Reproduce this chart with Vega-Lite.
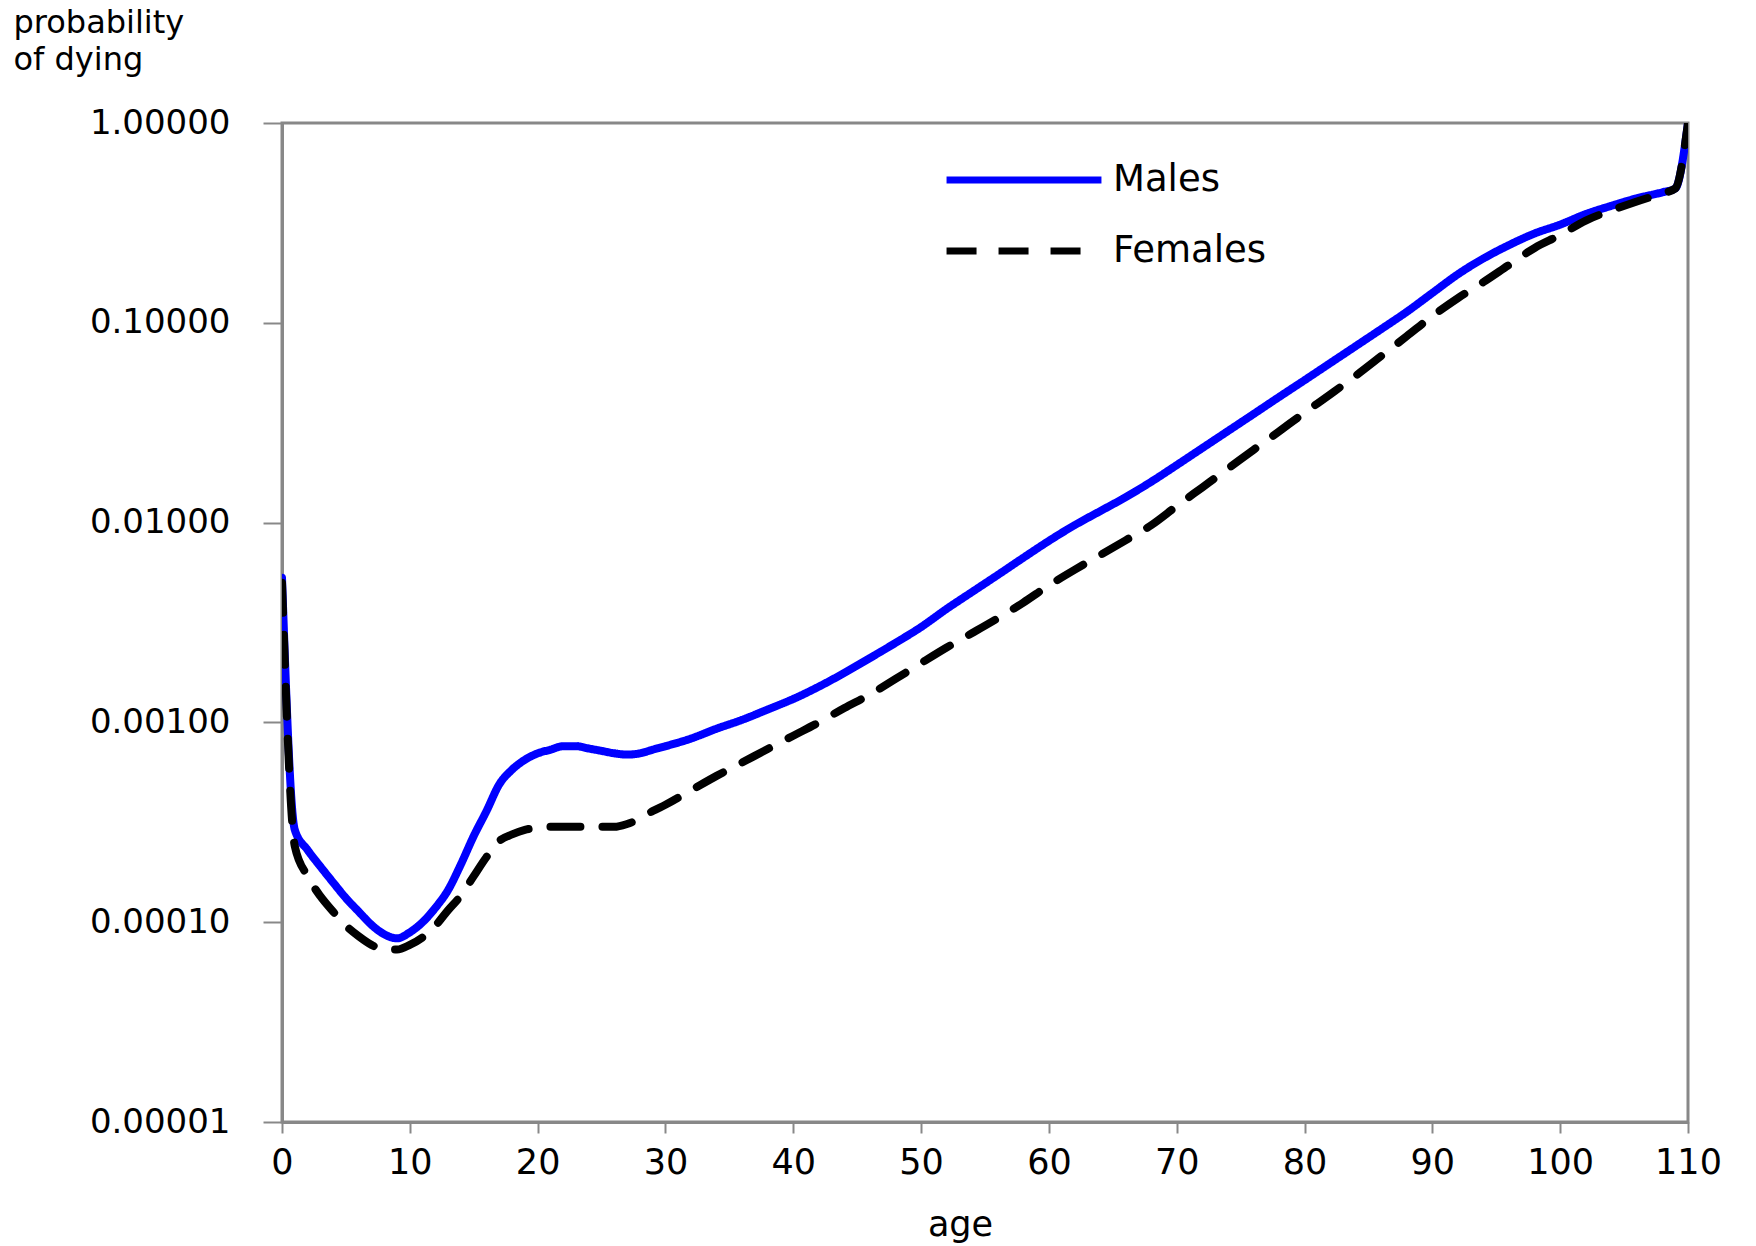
{
  "$schema": "https://vega.github.io/schema/vega-lite/v6.json",
  "width": 1406,
  "height": 999,
  "autosize": {"type": "none"},
  "padding": {"left": 282, "top": 123, "right": 68, "bottom": 124},
  "background": "white",
  "config": {
    "view": {"stroke": "#888888", "strokeWidth": 3},
    "font": "DejaVu Sans"
  },
  "data": {"values": [
    {"sex":"Males","age":0,"q":0.0053},{"sex":"Males","age":1,"q":0.00029},{"sex":"Males","age":2,"q":0.00023},{"sex":"Males","age":3,"q":0.00019},{"sex":"Males","age":4,"q":0.000158},{"sex":"Males","age":5,"q":0.000132},{"sex":"Males","age":6,"q":0.000113},{"sex":"Males","age":7,"q":0.000097},{"sex":"Males","age":8,"q":0.000087},{"sex":"Males","age":9,"q":0.000083},{"sex":"Males","age":10,"q":0.000089},{"sex":"Males","age":11,"q":0.0001},{"sex":"Males","age":12,"q":0.000118},{"sex":"Males","age":13,"q":0.000145},{"sex":"Males","age":14,"q":0.000195},{"sex":"Males","age":15,"q":0.00027},{"sex":"Males","age":16,"q":0.00036},{"sex":"Males","age":17,"q":0.00049},{"sex":"Males","age":18,"q":0.00058},{"sex":"Males","age":19,"q":0.00065},{"sex":"Males","age":20,"q":0.0007},{"sex":"Males","age":21,"q":0.00073},{"sex":"Males","age":22,"q":0.00076},{"sex":"Males","age":23,"q":0.00076},{"sex":"Males","age":24,"q":0.00074},{"sex":"Males","age":25,"q":0.00072},{"sex":"Males","age":26,"q":0.0007},{"sex":"Males","age":27,"q":0.00069},{"sex":"Males","age":28,"q":0.0007},{"sex":"Males","age":29,"q":0.00073},{"sex":"Males","age":30,"q":0.00076},{"sex":"Males","age":32,"q":0.00083},{"sex":"Males","age":34,"q":0.00093},{"sex":"Males","age":36,"q":0.00103},{"sex":"Males","age":38,"q":0.00116},{"sex":"Males","age":40,"q":0.00131},{"sex":"Males","age":42,"q":0.00151},{"sex":"Males","age":44,"q":0.00177},{"sex":"Males","age":46,"q":0.0021},{"sex":"Males","age":48,"q":0.0025},{"sex":"Males","age":50,"q":0.003},{"sex":"Males","age":52,"q":0.0037},{"sex":"Males","age":54,"q":0.0045},{"sex":"Males","age":56,"q":0.00547},{"sex":"Males","age":58,"q":0.00667},{"sex":"Males","age":60,"q":0.0081},{"sex":"Males","age":62,"q":0.0097},{"sex":"Males","age":64,"q":0.0114},{"sex":"Males","age":66,"q":0.0134},{"sex":"Males","age":68,"q":0.016},{"sex":"Males","age":70,"q":0.0194},{"sex":"Males","age":72,"q":0.0236},{"sex":"Males","age":74,"q":0.0287},{"sex":"Males","age":76,"q":0.0349},{"sex":"Males","age":78,"q":0.0425},{"sex":"Males","age":80,"q":0.0516},{"sex":"Males","age":82,"q":0.0628},{"sex":"Males","age":84,"q":0.0764},{"sex":"Males","age":86,"q":0.093},{"sex":"Males","age":88,"q":0.1135},{"sex":"Males","age":90,"q":0.141},{"sex":"Males","age":92,"q":0.175},{"sex":"Males","age":94,"q":0.21},{"sex":"Males","age":96,"q":0.245},{"sex":"Males","age":98,"q":0.28},{"sex":"Males","age":100,"q":0.31},{"sex":"Males","age":102,"q":0.35},{"sex":"Males","age":104,"q":0.385},{"sex":"Males","age":106,"q":0.42},{"sex":"Males","age":108,"q":0.45},{"sex":"Males","age":109,"q":0.47},{"sex":"Males","age":110,"q":1.0},
    {"sex":"Females","age":0,"q":0.005},{"sex":"Females","age":1,"q":0.00024},{"sex":"Females","age":2,"q":0.00017},{"sex":"Females","age":3,"q":0.000135},{"sex":"Females","age":4,"q":0.000113},{"sex":"Females","age":5,"q":0.000096},{"sex":"Females","age":6,"q":0.000085},{"sex":"Females","age":7,"q":0.000077},{"sex":"Females","age":8,"q":0.000073},{"sex":"Females","age":9,"q":0.000073},{"sex":"Females","age":10,"q":0.000077},{"sex":"Females","age":11,"q":0.000084},{"sex":"Females","age":12,"q":0.000096},{"sex":"Females","age":13,"q":0.000115},{"sex":"Females","age":14,"q":0.000136},{"sex":"Females","age":15,"q":0.00017},{"sex":"Females","age":16,"q":0.000212},{"sex":"Females","age":17,"q":0.000255},{"sex":"Females","age":18,"q":0.000275},{"sex":"Females","age":19,"q":0.00029},{"sex":"Females","age":20,"q":0.000297},{"sex":"Females","age":21,"q":0.0003},{"sex":"Females","age":22,"q":0.0003},{"sex":"Females","age":23,"q":0.0003},{"sex":"Females","age":24,"q":0.0003},{"sex":"Females","age":25,"q":0.0003},{"sex":"Females","age":26,"q":0.0003},{"sex":"Females","age":27,"q":0.00031},{"sex":"Females","age":28,"q":0.00033},{"sex":"Females","age":29,"q":0.00036},{"sex":"Females","age":30,"q":0.000387},{"sex":"Females","age":32,"q":0.000457},{"sex":"Females","age":34,"q":0.00054},{"sex":"Females","age":36,"q":0.00063},{"sex":"Females","age":38,"q":0.000736},{"sex":"Females","age":40,"q":0.000858},{"sex":"Females","age":42,"q":0.001},{"sex":"Females","age":44,"q":0.00118},{"sex":"Females","age":46,"q":0.00138},{"sex":"Females","age":48,"q":0.00165},{"sex":"Females","age":50,"q":0.00198},{"sex":"Females","age":52,"q":0.00237},{"sex":"Females","age":54,"q":0.0028},{"sex":"Females","age":56,"q":0.00332},{"sex":"Females","age":58,"q":0.00398},{"sex":"Females","age":60,"q":0.00485},{"sex":"Females","age":62,"q":0.0058},{"sex":"Females","age":64,"q":0.00687},{"sex":"Females","age":66,"q":0.00815},{"sex":"Females","age":68,"q":0.0097},{"sex":"Females","age":70,"q":0.0121},{"sex":"Females","age":72,"q":0.015},{"sex":"Females","age":74,"q":0.0186},{"sex":"Females","age":76,"q":0.0231},{"sex":"Females","age":78,"q":0.0286},{"sex":"Females","age":80,"q":0.0355},{"sex":"Females","age":82,"q":0.0438},{"sex":"Females","age":84,"q":0.0543},{"sex":"Females","age":86,"q":0.0682},{"sex":"Females","age":88,"q":0.0857},{"sex":"Females","age":90,"q":0.108},{"sex":"Females","age":92,"q":0.133},{"sex":"Females","age":94,"q":0.16},{"sex":"Females","age":96,"q":0.195},{"sex":"Females","age":98,"q":0.237},{"sex":"Females","age":100,"q":0.275},{"sex":"Females","age":102,"q":0.325},{"sex":"Females","age":104,"q":0.365},{"sex":"Females","age":106,"q":0.405},{"sex":"Females","age":108,"q":0.445},{"sex":"Females","age":109,"q":0.47},{"sex":"Females","age":110,"q":1.0}
  ]},
  "mark": {"type": "line", "strokeWidth": 8, "strokeCap": "round", "strokeJoin": "round", "interpolate": "monotone", "clip": true},
  "encoding": {
    "x": {
      "field": "age", "type": "quantitative",
      "scale": {"domain": [0, 110], "nice": false, "zero": false},
      "axis": {
        "values": [0,10,20,30,40,50,60,70,80,90,100,110],
        "grid": false,
        "domainColor": "#888888", "domainWidth": 3,
        "tickColor": "#888888", "tickWidth": 2, "tickSize": 11,
        "labelFont": "DejaVu Sans", "labelFontSize": 35, "labelColor": "#000000",
        "labelPadding": 12, "labelFlush": false, "labelOverlap": false,
        "title": "age", "titleFont": "DejaVu Sans", "titleFontSize": 35, "titleFontWeight": "normal", "titleColor": "#000000",
        "titleX": 678, "titleY": 113, "titleAlign": "center", "titleBaseline": "alphabetic"
      }
    },
    "y": {
      "field": "q", "type": "quantitative",
      "scale": {"type": "log", "domain": [0.00001, 1], "nice": false},
      "axis": {
        "values": [0.00001, 0.0001, 0.001, 0.01, 0.1, 1],
        "format": ".5f",
        "grid": false,
        "domainColor": "#888888", "domainWidth": 3,
        "tickColor": "#888888", "tickWidth": 2, "tickSize": 19,
        "labelFont": "DejaVu Sans", "labelFontSize": 34, "labelColor": "#000000",
        "labelPadding": 33, "labelOverlap": false,
        "title": ["probability", "of dying"],
        "titleFont": "DejaVu Sans", "titleFontSize": 32, "titleFontWeight": "normal", "titleColor": "#000000",
        "titleAngle": 0, "titleAlign": "left", "titleBaseline": "alphabetic",
        "titleX": -269, "titleY": -91, "titleLineHeight": 37
      }
    },
    "color": {
      "field": "sex", "type": "nominal",
      "scale": {"domain": ["Males", "Females"], "range": ["#0000FF", "#000000"]},
      "legend": {
        "orient": "none", "legendX": 661, "legendY": 40, "title": null,
        "symbolType": "stroke", "symbolSize": 24000, "symbolStrokeWidth": 7,
        "labelFont": "DejaVu Sans", "labelFontSize": 37, "labelColor": "#000000",
        "labelOffset": 8, "rowPadding": 34, "clipHeight": 34, "padding": 0
      }
    },
    "strokeDash": {
      "field": "sex", "type": "nominal",
      "scale": {"domain": ["Males", "Females"], "range": [[1, 0], [30, 22]]},
      "legend": {
        "orient": "none", "legendX": 661, "legendY": 40, "title": null,
        "symbolType": "stroke", "symbolSize": 24000, "symbolStrokeWidth": 7,
        "labelFont": "DejaVu Sans", "labelFontSize": 37, "labelColor": "#000000",
        "labelOffset": 8, "rowPadding": 34, "clipHeight": 34, "padding": 0
      }
    }
  }
}
